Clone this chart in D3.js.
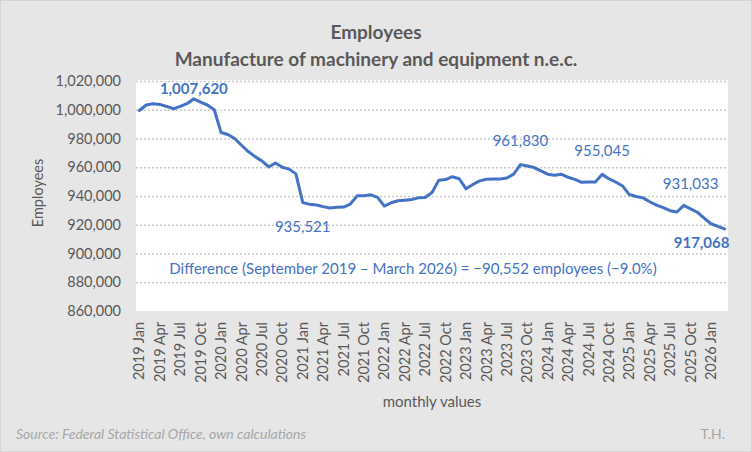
<!DOCTYPE html>
<html>
<head>
<meta charset="utf-8">
<script src="https://cdn.jsdelivr.net/npm/d3@7"></script>
<style>
  body { margin: 0; background: #fff; }
  svg { display: block; font-family: Lato, "Open Sans", sans-serif; }
  .grid line { stroke: #c9c9c9; stroke-width: 1.5; stroke-dasharray: 2,2; }
  .axis text { fill: #595959; }
</style>
</head>
<body>
<div id="chart"></div>
<script>
// category labels
var years = [2019, 2020, 2021, 2022, 2023, 2024, 2025, 2026];
var monthNames = ["Jan","Feb","Mar","Apr","May","Jun","Jul","Aug","Sep","Oct","Nov","Dec"];
var lastMonthCount = 3; // 2026 ends with March

// employees, one value per month (Jan 2019 - Mar 2026)
var employees = [
  999500, 1003300, 1004200, 1003700, 1002300, 1000700, 1002300, 1004200, 1007620, 1005300, 1003300, 1000000,
  984200, 982800, 980000, 975300, 970900, 967400, 964400, 960200, 963000, 960000, 958700, 955400,
  935521, 934200, 933700, 932600, 931700, 932100, 932300, 934400, 940100, 940100, 940800, 939000,
  933000, 935300, 936700, 937100, 937600, 938700, 939000, 942400, 951000, 951400, 953400, 952000,
  945000, 948000, 950500, 951600, 951800, 951800, 952500, 955200, 961830, 960900, 959800, 957500,
  955200, 954500, 955200, 953000, 951600, 949500, 949700, 949700, 955045, 952000, 949700, 947000,
  941000, 939700, 938700, 936000, 933700, 931900, 929800, 928900, 933500, 931033, 928700, 924600,
  920700, 918900, 917068
];

var yTicks = [860000, 880000, 900000, 920000, 940000, 960000, 980000, 1000000, 1020000];

// labelled points
var labelIndex = [8, 24, 56, 68, 81, 86];
var labelBold = [true, false, false, false, false, true];

var titleLines = ["Employees", "Manufacture of machinery and equipment n.e.c."];
var note = "Difference (September 2019 \u2013 March 2026) = \u221290,552 employees (\u22129.0%)";

var months = [];
years.forEach(function(y, yi){
	var n = (yi == years.length - 1) ? lastMonthCount : 12;
	for(var m = 0; m < n; m++){
		months.push(y + " " + monthNames[m]);
	}
});

var width = 752, height = 452;
var plot = {left:136, right:728, top:81, bottom:311};

var svg = d3.select("#chart").append("svg")
			.attr("width", width)
			.attr("height", height);

svg.append("rect")
   .attr("x", 0.5).attr("y", 0.5)
   .attr("width", width - 1).attr("height", height - 1)
   .attr("fill", "#e7e6e6")
   .attr("stroke", "#d4d4d4");

svg.append("rect")
   .attr("x", plot.left).attr("y", plot.top - 1)
   .attr("width", plot.right - plot.left)
   .attr("height", plot.bottom - plot.top + 1)
   .attr("fill", "#ffffff");

var xScale = d3.scaleBand()
			   .domain(months)
			   .range([plot.left, plot.right])
			   .padding(0);

var yScale = d3.scaleLinear()
			   .domain([860000, 1020000])
			   .range([plot.bottom, plot.top]);

/*grid*/
var grid_y = d3.axisLeft(yScale)
			   .tickValues(yTicks.slice(1))
			   .tickSize(-(plot.right - plot.left))
			   .tickFormat("");

svg.append("g")
   .attr("class", "grid")
   .attr("transform", "translate(" + plot.left + ",0)")
   .call(grid_y)
   .call(function(g){ g.select(".domain").remove(); });

/*y axis*/
var axis_y = d3.axisLeft(yScale)
			   .tickValues(yTicks)
			   .tickSize(0)
			   .tickPadding(15)
			   .tickFormat(d3.format(","));

svg.append("g")
   .attr("class", "axis")
   .attr("transform", "translate(" + plot.left + ",0)")
   .call(axis_y)
   .call(function(g){ g.select(".domain").remove(); })
   .selectAll("text")
   .attr("font-size", "14.5px")
   .attr("font-family", "Lato, sans-serif");

/*x axis, every third month*/
var axis_x = d3.axisBottom(xScale)
			   .tickValues(months.filter(function(d, i){ return i % 3 == 0; }))
			   .tickSize(0)
			   .tickPadding(0);

svg.append("g")
   .attr("class", "axis")
   .attr("transform", "translate(0," + plot.bottom + ")")
   .call(axis_x)
   .call(function(g){ g.select(".domain").remove(); })
   .selectAll("text")
   .attr("font-size", "14.5px")
   .attr("font-family", "Lato, sans-serif")
   .attr("transform", "rotate(-90)")
   .attr("text-anchor", "end")
   .attr("x", -11)
   .attr("y", 0)
   .attr("dy", "0.35em");

/*line*/
var line = d3.line()
			 .x(function(d, i){ return xScale(months[i]) + xScale.bandwidth() / 2; })
			 .y(function(d){ return yScale(d); });

svg.append("path")
   .attr("d", line(employees))
   .attr("fill", "none")
   .attr("stroke", "#4472c4")
   .attr("stroke-width", 3)
   .attr("stroke-linejoin", "round")
   .attr("stroke-linecap", "round");

/*data labels*/
var labelDx = [0, 0, 0, 0, 0, -23];
var labelDy = [-10.5, 24, -24, -24, -25, 14];

svg.selectAll(".dlabel")
   .data(labelIndex)
   .enter()
   .append("text")
   .attr("class", "dlabel")
   .attr("x", function(d, i){ return xScale(months[d]) + xScale.bandwidth() / 2 + labelDx[i]; })
   .attr("y", function(d, i){ return yScale(employees[d]) + labelDy[i]; })
   .attr("dy", "0.35em")
   .attr("text-anchor", "middle")
   .attr("font-size", "15px")
   .attr("font-weight", function(d, i){ return labelBold[i] ? "bold" : "normal"; })
   .attr("fill", "#4472c4")
   .text(function(d){ return d3.format(",")(employees[d]); });

svg.append("text")
   .attr("x", 413)
   .attr("y", 269)
   .attr("dy", "0.35em")
   .attr("text-anchor", "middle")
   .attr("font-size", "15px")
   .attr("fill", "#4472c4")
   .text(note);

/*titles*/
svg.selectAll(".title")
   .data(titleLines)
   .enter()
   .append("text")
   .attr("class", "title")
   .attr("x", 376)
   .attr("y", function(d, i){ return i == 0 ? 32 : 59; })
   .attr("dy", "0.35em")
   .attr("text-anchor", "middle")
   .attr("font-size", "19px")
   .attr("font-weight", "bold")
   .attr("fill", "#595959")
   .text(function(d){ return d; });

svg.append("text")
   .attr("transform", "translate(38,193) rotate(-90)")
   .attr("dy", "0.35em")
   .attr("text-anchor", "middle")
   .attr("font-size", "14.5px")
   .attr("fill", "#595959")
   .text("Employees");

svg.append("text")
   .attr("x", (plot.left + plot.right) / 2)
   .attr("y", 402)
   .attr("dy", "0.35em")
   .attr("text-anchor", "middle")
   .attr("font-size", "15px")
   .attr("fill", "#595959")
   .text("monthly values");

svg.append("text")
   .attr("x", 16)
   .attr("y", 434)
   .attr("dy", "0.35em")
   .attr("font-size", "14px")
   .attr("font-style", "italic")
   .attr("fill", "#a6a6a6")
   .text("Source: Federal Statistical Office, own calculations");

svg.append("text")
   .attr("x", 725)
   .attr("y", 434)
   .attr("dy", "0.35em")
   .attr("text-anchor", "end")
   .attr("font-size", "14px")
   .attr("fill", "#a6a6a6")
   .text("T.H.");
</script>
</body>
</html>
